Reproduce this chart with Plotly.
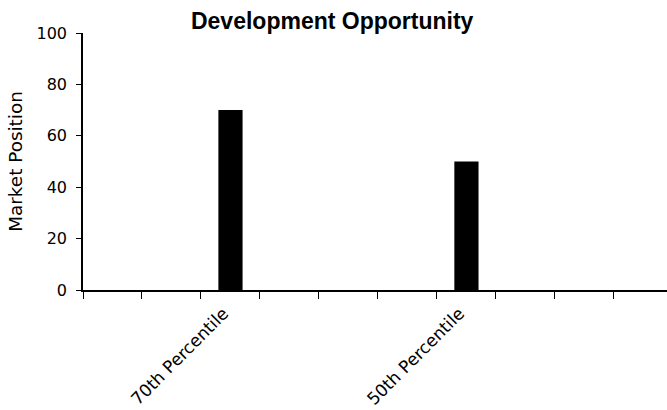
import plotly.graph_objects as go

# Category slots along the x axis; only two carry a label and a value
categories = [" ", "  ", "70th Percentile", "   ", "    ",
              "     ", "50th Percentile", "      ", "       ", "        "]
market_position = [None, None, 70, None, None, None, 50, None, None, None]

y_ticks = [0, 20, 40, 60, 80, 100]

fig = go.Figure(
    go.Bar(
        x=categories,
        y=market_position,
        marker=dict(color="black", line=dict(width=0)),
        width=0.41,
    )
)

axis_font = "DejaVu Sans, Verdana, sans-serif"
title_font = "Liberation Sans, Arial, sans-serif"

fig.update_layout(
    width=667,
    height=410,
    margin=dict(l=83, r=0, t=33, b=120),
    paper_bgcolor="white",
    plot_bgcolor="white",
    showlegend=False,
    title=dict(
        text="<b>Development Opportunity</b>",
        x=0.498,
        xref="container",
        xanchor="center",
        y=1 - 12.5 / 410,
        yref="container",
        yanchor="top",
        font=dict(family=title_font, size=23, color="black"),
    ),
    font=dict(family=axis_font, color="black"),
)

fig.update_xaxes(
    type="category",
    categoryorder="array",
    categoryarray=categories,
    range=[-0.5, 9.4],
    automargin=False,
    tickson="boundaries",
    ticks="outside",
    ticklen=7,
    tickwidth=1.2,
    tickcolor="black",
    tickangle=-45,
    ticklabelstandoff=5,
    ticklabelshift=-7,
    tickfont=dict(family=axis_font, size=17.1, color="black"),
    showline=True,
    linecolor="black",
    linewidth=1.6,
    showgrid=False,
    zeroline=False,
)

fig.update_yaxes(
    range=[0, 100],
    tickvals=y_ticks,
    automargin=False,
    ticks="outside",
    ticklen=5,
    tickwidth=1.2,
    tickcolor="black",
    ticklabelstandoff=6,
    tickfont=dict(family=axis_font, size=16, color="black"),
    showline=True,
    linecolor="black",
    linewidth=1.6,
    showgrid=False,
    zeroline=False,
    title=dict(
        text="Market Position",
        font=dict(family=axis_font, size=18.4, color="black"),
        standoff=9,
    ),
)

fig.write_html("out.html")
